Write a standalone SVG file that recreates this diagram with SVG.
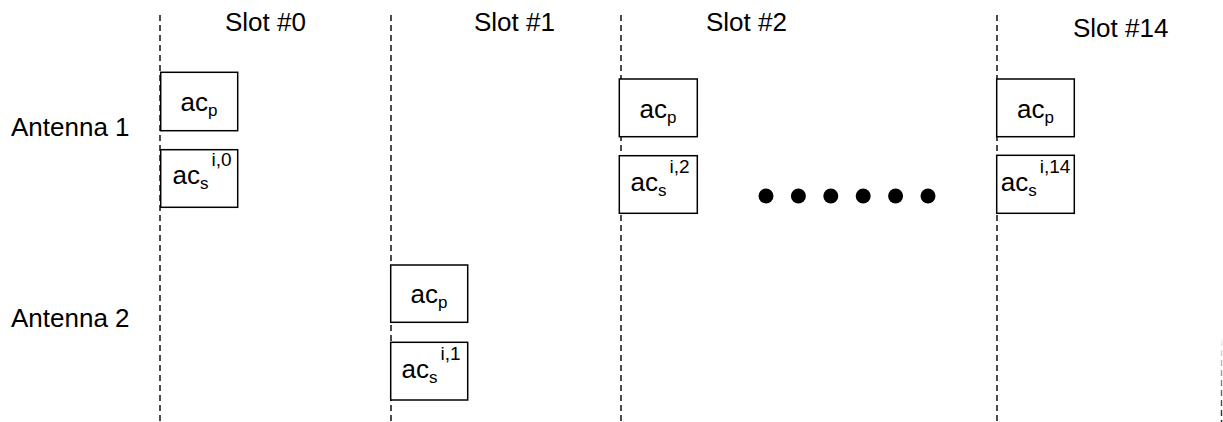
<svg xmlns="http://www.w3.org/2000/svg" width="1223" height="422" viewBox="0 0 1223 422">
<style>
text{font-family:"Liberation Sans",Arial,sans-serif;fill:#000}
.lbl{font-size:26px}
.box rect{fill:#fff;stroke:#000;stroke-width:1.5}
.box text{font-size:26px;text-anchor:middle}
.sm{font-size:17px}
.sup{font-size:19px}
.slot{stroke:#000;stroke-width:1.4;stroke-dasharray:6 4;fill:none}
</style>
<defs>
<linearGradient id="fade" gradientUnits="userSpaceOnUse" x1="0" y1="340" x2="0" y2="422">
<stop offset="0" stop-color="#000" stop-opacity="0.05"/>
<stop offset="1" stop-color="#000" stop-opacity="0.9"/>
</linearGradient>
</defs>
<g id="connectors">
<line class="slot" x1="160" y1="15" x2="160" y2="422"/>
<line class="slot" x1="391" y1="15" x2="391" y2="422"/>
<line class="slot" x1="621" y1="15" x2="621" y2="422"/>
<line class="slot" x1="997" y1="15" x2="997" y2="422"/>
<line x1="1221.5" y1="340" x2="1221.5" y2="422" stroke="url(#fade)" stroke-width="1.4" stroke-dasharray="6 4"/>
</g>
<g id="labels">
<text class="lbl" x="225" y="31">Slot #0</text>
<text class="lbl" x="474" y="31">Slot #1</text>
<text class="lbl" x="706" y="31">Slot #2</text>
<text class="lbl" x="1073" y="37">Slot #14</text>
<text class="lbl" x="11" y="136">Antenna 1</text>
<text class="lbl" x="11" y="327">Antenna 2</text>
</g>
<g id="s0p" class="box"><rect x="160.7" y="72.3" width="77" height="58.4"/><text x="199" y="110.5">ac<tspan class="sm" dy="5">p</tspan></text></g>
<g id="s0s" class="box"><rect x="160.7" y="149.7" width="77" height="57.6"/><text x="202" y="184">ac<tspan class="sm" dy="5">s</tspan><tspan class="sup" dx="3" dy="-23">i,0</tspan></text></g>
<g id="s1p" class="box"><rect x="390.7" y="265" width="77" height="57.3"/><text x="429" y="302.5">ac<tspan class="sm" dy="5">p</tspan></text></g>
<g id="s1s" class="box"><rect x="390.7" y="342.3" width="77" height="57.7"/><text x="431" y="378">ac<tspan class="sm" dy="5">s</tspan><tspan class="sup" dx="3" dy="-23">i,1</tspan></text></g>
<g id="s2p" class="box"><rect x="619.3" y="79" width="78" height="57.7"/><text x="658" y="118">ac<tspan class="sm" dy="5">p</tspan></text></g>
<g id="s2s" class="box"><rect x="619.3" y="155.7" width="78" height="57.6"/><text x="660" y="191">ac<tspan class="sm" dy="5">s</tspan><tspan class="sup" dx="3" dy="-23">i,2</tspan></text></g>
<g id="s14p" class="box"><rect x="996.7" y="79" width="77.6" height="57.7"/><text x="1035.5" y="118">ac<tspan class="sm" dy="5">p</tspan></text></g>
<g id="s14s" class="box"><rect x="996.7" y="155.3" width="77.6" height="58"/><text x="1035.5" y="191">ac<tspan class="sm" dy="5">s</tspan><tspan class="sup" dx="3" dy="-23">i,14</tspan></text></g>
<g id="ellipsis" fill="#000">
<circle cx="766" cy="196" r="7.5"/>
<circle cx="798.4" cy="196" r="7.5"/>
<circle cx="830.8" cy="196" r="7.5"/>
<circle cx="863.2" cy="196" r="7.5"/>
<circle cx="895.6" cy="196" r="7.5"/>
<circle cx="928" cy="196" r="7.5"/>
</g>
</svg>
